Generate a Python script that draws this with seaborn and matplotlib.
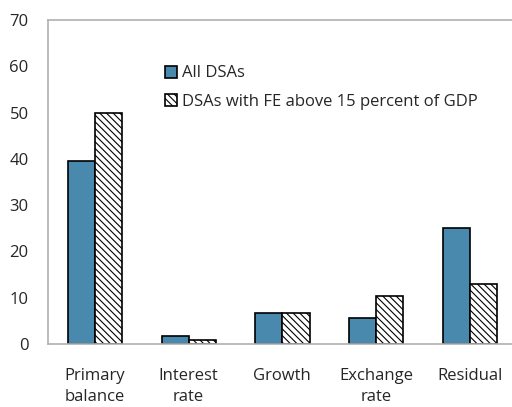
import matplotlib
matplotlib.use("Agg")
import matplotlib.pyplot as plt
import seaborn as sns
import pandas as pd

# contributions, percent
categories = ["Primary\nbalance", "Interest\nrate", "Growth", "Exchange\nrate", "Residual"]
all_dsas = [39.6, 1.8, 6.6, 5.5, 25.1]
fe_above_15 = [50.0, 0.8, 6.6, 10.3, 12.9]
series_names = ["All DSAs", "DSAs with FE above 15 percent of GDP"]
yticks = [0, 10, 20, 30, 40, 50, 60, 70]

df = pd.DataFrame({
    "category": categories * 2,
    "value": all_dsas + fe_above_15,
    "series": [series_names[0]] * len(categories) + [series_names[1]] * len(categories),
})

sns.set_style("white")
plt.rcParams["font.family"] = ["Open Sans", "DejaVu Sans"]
plt.rcParams["hatch.linewidth"] = 0.8
plt.rcParams["hatch.color"] = "#333333"

fig = plt.figure(figsize=(5.12, 4.07), dpi=100)
ax = fig.add_axes([0.094, 0.155, 0.915, 0.796])

blue = "#4a89ae"
sns.barplot(data=df, x="category", y="value", hue="series",
            palette=[blue, "white"], edgecolor="black", linewidth=1.2,
            width=0.58, gap=0, saturation=1, legend=False, ax=ax)

for bar in ax.containers[1]:
    bar.set_hatch("\\\\\\\\\\")

ax.set_ylim(0, 70)
ax.set_yticks(yticks)
ax.set_xlim(-0.5, 4.5)
ax.set_xlabel("")
ax.set_ylabel("")

for s in ax.spines.values():
    s.set_color("#b0b0b0")
    s.set_linewidth(1.2)
ax.spines["right"].set_visible(False)

ax.tick_params(axis="y", direction="in", length=4, color="#b0b0b0",
               labelsize=12, pad=14)
ax.tick_params(axis="x", which="major", length=0, labelsize=12, pad=17)
for lab in ax.get_xticklabels():
    lab.set_linespacing(1.45)
ax.set_xticks([0.5, 1.5, 2.5, 3.5], minor=True)
ax.tick_params(axis="x", which="minor", direction="in", length=5, color="#b0b0b0")

leg = ax.legend(handles=[ax.containers[0][0], ax.containers[1][0]],
                labels=series_names, loc="upper left", bbox_to_anchor=(0.235, 0.88),
                frameon=False, fontsize=12, handlelength=0.75, handleheight=0.75,
                handletextpad=0.3, labelspacing=0.75, borderaxespad=0)

fig.savefig("out.png", dpi=100)
